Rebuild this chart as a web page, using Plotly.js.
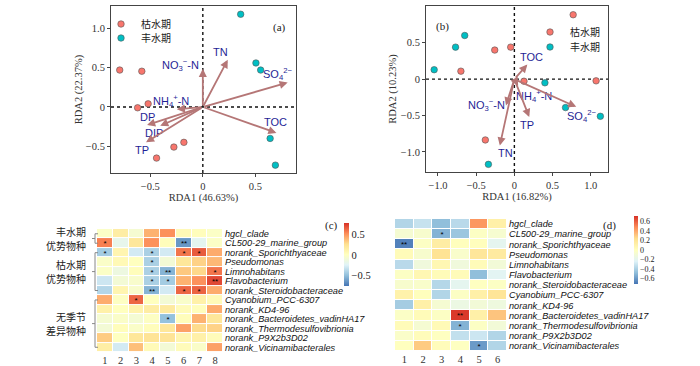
<!DOCTYPE html>
<html>
<head>
<meta charset="utf-8">
<script src="https://cdn.plot.ly/plotly-3.0.1.min.js"></script>
<style>html,body{margin:0;padding:0;background:#fff;}#chart{width:700px;height:366px;}</style>
</head>
<body>
<div id="chart"></div>
<script>
// ---------- DATA ----------
const seasons = ['枯水期', '丰水期'];
// Panel (a) sample scores
const aDryX = [-0.79, -0.58, -0.62, -0.52, -0.44, -0.275, -0.18];
const aDryY = [0.47, 0.455, -0.01, 0.04, -0.65, -0.51, -0.45];
const aWetX = [0.36, 0.505, 0.55, 0.64, 0.69];
const aWetY = [1.18, 0.56, 0.47, -0.40, -0.74];
// Panel (a) environmental vectors
const aEnv = ['TN', 'NO<sub>3</sub><sup>−</sup>-N', 'SO<sub>4</sub><sup>2−</sup>', 'TOC', 'NH<sub>4</sub><sup>+</sup>-N', 'DP', 'DIP', 'TP'];
const aEnvX = [0.237, 0.0, 0.807, 0.70, -0.247, -0.53, -0.405, -0.54];
const aEnvY = [0.60, 0.485, 0.31, -0.33, -0.03, -0.23, -0.24, -0.45];
// Panel (b) sample scores
const bDryX = [0.77, -0.257, -0.048, -0.70, 0.126, 1.07, -0.38];
const bDryY = [0.885, 0.40, 0.44, 0.11, -0.028, -0.023, -0.835];
const bWetX = [-0.65, -0.77, -1.05, 0.40, 0.67, 1.126, -0.34];
const bWetY = [0.60, 0.44, 0.13, -0.05, -0.39, -0.51, -1.17];
// Panel (b) environmental vectors
const bEnv = ['TOC', 'NH<sub>4</sub><sup>+</sup>-N', 'NO<sub>3</sub><sup>−</sup>-N', 'TN', 'TP', 'SO<sub>4</sub><sup>2−</sup>'];
const bEnvX = [0.17, 0.05, -0.11, -0.19, 0.195, 0.81];
const bEnvY = [0.20, -0.09, -0.36, -0.91, -0.52, -0.38];

// Heatmaps
const taxa = ['hgcl_clade', 'CL500-29_marine_group', 'norank_Sporichthyaceae', 'Pseudomonas',
  'Limnohabitans', 'Flavobacterium', 'norank_Steroidobacteraceae', 'Cyanobium_PCC-6307',
  'norank_KD4-96', 'norank_Bacteroidetes_vadinHA17', 'norank_Thermodesulfovibrionia',
  'norank_P9X2b3D02', 'norank_Vicinamibacterales'];
const colsC = [1, 2, 3, 4, 5, 6, 7, 8];
const colsD = [1, 2, 3, 4, 5, 6];
const corrC = [
  [-0.03, 0.15, -0.08, 0.40, 0.50, 0.05, 0.02, -0.03],
  [0.55, -0.20, 0.20, 0.50, 0.02, -0.65, -0.22, -0.03],
  [-0.45, 0.08, -0.30, -0.43, -0.30, 0.58, 0.65, 0.42],
  [-0.04, 0.05, 0.00, -0.43, -0.10, 0.20, 0.30, 0.38],
  [-0.03, -0.15, 0.02, -0.43, -0.55, 0.33, 0.28, 0.58],
  [-0.32, -0.10, -0.06, -0.43, -0.45, 0.40, 0.50, 0.70],
  [-0.40, 0.08, -0.06, -0.55, -0.30, 0.62, 0.63, 0.42],
  [0.42, -0.02, 0.62, 0.00, -0.10, -0.05, 0.12, 0.04],
  [0.12, 0.00, 0.10, 0.15, 0.17, 0.03, 0.01, 0.42],
  [-0.08, -0.04, -0.09, -0.02, -0.50, 0.02, 0.40, 0.20],
  [-0.10, 0.02, -0.04, 0.02, 0.20, 0.45, 0.27, 0.30],
  [0.32, -0.01, 0.20, 0.22, 0.22, 0.08, 0.12, 0.03],
  [0.14, -0.30, 0.36, 0.04, -0.10, 0.03, -0.04, 0.45]
];
const sigC = [
  ['', '', '', '', '', '', '', ''],
  ['*', '', '', '', '', '**', '', ''],
  ['*', '', '', '*', '', '*', '*', ''],
  ['', '', '', '*', '', '', '', ''],
  ['', '', '', '*', '**', '', '', '*'],
  ['', '', '', '*', '*', '', '', '**'],
  ['', '', '', '**', '', '*', '*', ''],
  ['', '', '*', '', '', '', '', ''],
  ['', '', '', '', '', '', '', ''],
  ['', '', '', '', '*', '', '', ''],
  ['', '', '', '', '', '', '', ''],
  ['', '', '', '', '', '', '', ''],
  ['', '', '', '', '', '', '', '']
];
const corrD = [
  [-0.38, -0.32, -0.48, -0.36, 0.45, 0.12],
  [-0.08, -0.06, -0.52, -0.45, -0.02, -0.07],
  [-0.68, -0.02, 0.14, 0.01, 0.01, -0.20],
  [0.03, -0.06, 0.22, -0.05, 0.19, 0.16],
  [-0.36, -0.12, 0.06, -0.12, 0.03, -0.10],
  [-0.02, 0.06, 0.03, 0.03, -0.48, -0.22],
  [-0.06, -0.05, -0.37, -0.20, -0.01, -0.02],
  [0.10, 0.01, -0.38, -0.02, 0.12, 0.20],
  [-0.42, 0.12, -0.08, -0.15, -0.10, -0.13],
  [-0.03, 0.03, -0.02, 0.70, 0.12, 0.32],
  [0.03, -0.08, 0.04, -0.52, -0.02, -0.10],
  [-0.04, 0.02, -0.01, -0.33, -0.30, -0.38],
  [0.00, 0.30, 0.02, -0.01, -0.60, -0.38]
];
const sigD = [
  ['', '', '', '', '', ''],
  ['', '', '*', '', '', ''],
  ['**', '', '', '', '', ''],
  ['', '', '', '', '', ''],
  ['', '', '', '', '', ''],
  ['', '', '', '', '', ''],
  ['', '', '', '', '', ''],
  ['', '', '', '', '', ''],
  ['', '', '', '', '', ''],
  ['', '', '', '**', '', ''],
  ['', '', '', '*', '', ''],
  ['', '', '', '', '', ''],
  ['', '', '', '', '*', '']
];
const groupLine1 = ['丰水期', '枯水期', '无季节'];
const groupLine2 = ['优势物种', '优势物种', '差异物种'];
const groupStart = [0, 2, 7];
const groupEnd = [1, 6, 12];
const cbTicksC = [-0.5, 0, 0.5];
const cbTicksD = [-0.6, -0.4, -0.2, 0, 0.2, 0.4, 0.6];

// ---------- STYLE ----------
const SERIF = 'Liberation Serif, Times New Roman, serif';
const SANS = 'Liberation Sans, Arial, sans-serif';
const CJK = 'Noto Sans CJK SC, sans-serif';
const RED = '#F8766D', TEAL = '#00BFC4';
const ARROW = '#b57676', LABEL = '#1f1f96';
const scale = [[0, '#4575b4'], [1/6, '#91bfdb'], [2/6, '#e0f3f8'], [0.5, '#ffffbf'], [4/6, '#fee090'], [5/6, '#fc8d59'], [1, '#d73027']];
const fmtTick = v => v === 0 ? '0' : (v < 0 ? '−' : '') + Math.abs(v).toFixed(1);

// label offsets in px for vector labels
const aLabShift = [[-7, 8], [-22, 4], [-10, 9], [-1, 11], [-6, 8], [0, 8], [-6, -7], [-4, -8]];
const bLabShift = [[4, 8], [16, -10], [-19, 0], [6, -8], [-2, -8], [5, -9]];

const mk = (c) => ({color: c, size: 6.5, line: {color: '#555', width: 0.6}});

const traces = [
  {type: 'scatter', mode: 'markers', x: aDryX, y: aDryY, name: seasons[0], marker: mk(RED), xaxis: 'x', yaxis: 'y', legend: 'legend', hoverinfo: 'x+y'},
  {type: 'scatter', mode: 'markers', x: aWetX, y: aWetY, name: seasons[1], marker: mk(TEAL), xaxis: 'x', yaxis: 'y', legend: 'legend2', hoverinfo: 'x+y'},
  {type: 'scatter', mode: 'markers', x: bDryX, y: bDryY, name: seasons[0], marker: mk(RED), xaxis: 'x2', yaxis: 'y2', legend: 'legend3', hoverinfo: 'x+y'},
  {type: 'scatter', mode: 'markers', x: bWetX, y: bWetY, name: seasons[1], marker: mk(TEAL), xaxis: 'x2', yaxis: 'y2', legend: 'legend4', hoverinfo: 'x+y'},
  {type: 'heatmap', x: colsC, y: taxa, z: corrC, text: sigC, texttemplate: '%{text}',
   textfont: {size: 8, color: '#000', family: SANS},
   colorscale: scale, zmin: -0.77, zmax: 0.77, xgap: 1, ygap: 1, xaxis: 'x3', yaxis: 'y3', showlegend: false,
   colorbar: {x: 344/700, xanchor: 'left', y: 1 - 255/366, yanchor: 'middle', lenmode: 'pixels', len: 63,
     thickness: 5, outlinewidth: 0, xpad: 0, ypad: 0, ticks: '', tickvals: cbTicksC, ticktext: cbTicksC.map(fmtTick),
     tickfont: {family: SERIF, size: 10.5, color: '#222'}}},
  {type: 'heatmap', x: colsD, y: taxa, z: corrD, text: sigD, texttemplate: '%{text}',
   textfont: {size: 8, color: '#000', family: SANS},
   colorscale: scale, zmin: -0.72, zmax: 0.72, xgap: 1, ygap: 1, xaxis: 'x4', yaxis: 'y4', showlegend: false,
   colorbar: {x: 634/700, xanchor: 'left', y: 1 - 250/366, yanchor: 'middle', lenmode: 'pixels', len: 68,
     thickness: 4, outlinewidth: 0, xpad: 0, ypad: 0, ticks: '', tickvals: cbTicksD, ticktext: cbTicksD.map(fmtTick),
     tickfont: {family: SERIF, size: 8, color: '#222'}}}
];

const axFont = {family: SERIF, size: 10.5, color: '#333'};
const frame = {showline: true, mirror: true, linecolor: '#444', linewidth: 1, ticks: 'outside', ticklen: 3,
  tickcolor: '#444', showgrid: false, zeroline: false, tickfont: axFont};

const annotations = [];
aEnv.forEach((n, i) => {
  annotations.push({xref: 'x', yref: 'y', axref: 'x', ayref: 'y', x: aEnvX[i], y: aEnvY[i], ax: 0, ay: 0,
    text: '', showarrow: true, arrowhead: 2, arrowsize: 0.9, arrowwidth: 1.8, arrowcolor: ARROW});
  annotations.push({xref: 'x', yref: 'y', x: aEnvX[i], y: aEnvY[i], xshift: aLabShift[i][0], yshift: aLabShift[i][1],
    text: n, showarrow: false, font: {family: SANS, size: 11, color: LABEL}});
});
bEnv.forEach((n, i) => {
  annotations.push({xref: 'x2', yref: 'y2', axref: 'x2', ayref: 'y2', x: bEnvX[i], y: bEnvY[i], ax: 0, ay: 0,
    text: '', showarrow: true, arrowhead: 2, arrowsize: 0.9, arrowwidth: 1.8, arrowcolor: ARROW});
  annotations.push({xref: 'x2', yref: 'y2', x: bEnvX[i], y: bEnvY[i], xshift: bLabShift[i][0], yshift: bLabShift[i][1],
    text: n, showarrow: false, font: {family: SANS, size: 11, color: LABEL}});
});
const panelLab = [['(a)', 279, 19], ['(b)', 442, 18], ['(c)', 331, 225], ['(d)', 618, 225]];
panelLab.forEach(p => annotations.push({xref: 'paper', yref: 'paper', x: p[1]/700, y: 1 - p[2]/366,
  text: p[0], showarrow: false, font: {family: SERIF, size: 11, color: '#222'}}));
const grpFont = {family: CJK, size: 10, color: '#222'};
groupLine1.forEach((g, i) => {
  const mid = (groupStart[i] + groupEnd[i]) / 2;
  annotations.push({xref: 'paper', yref: 'y3', x: 88/700, xanchor: 'right', y: mid, yshift: 7,
    text: g, showarrow: false, font: grpFont});
  annotations.push({xref: 'paper', yref: 'y3', x: 88/700, xanchor: 'right', y: mid, yshift: -7,
    text: groupLine2[i], showarrow: false, font: grpFont});
});

const shapes = [];
[['x', 'y'], ['x2', 'y2']].forEach(([xa, ya]) => {
  shapes.push({type: 'line', xref: xa, yref: ya + ' domain', x0: 0, x1: 0, y0: 0, y1: 1, line: {color: '#111', width: 1.4, dash: 'dot'}, layer: 'below'});
  shapes.push({type: 'line', xref: xa + ' domain', yref: ya, x0: 0, x1: 1, y0: 0, y1: 0, line: {color: '#111', width: 1.4, dash: 'dot'}, layer: 'below'});
});
const bx = 95/700, bR = 98/700, bL = 92/700;
const brk = {color: '#888', width: 1};
groupLine1.forEach((g, i) => {
  const s = groupStart[i], e = groupEnd[i];
  shapes.push({type: 'line', xref: 'paper', yref: 'y3', x0: bx, x1: bx, y0: s, y1: e, line: brk});
  shapes.push({type: 'line', xref: 'paper', yref: 'y3', x0: bx, x1: bR, y0: s, y1: s, line: brk});
  shapes.push({type: 'line', xref: 'paper', yref: 'y3', x0: bx, x1: bR, y0: e, y1: e, line: brk});
  shapes.push({type: 'line', xref: 'paper', yref: 'y3', x0: bL, x1: bx, y0: (s + e) / 2, y1: (s + e) / 2, line: brk});
});

const legBase = {xanchor: 'left', yanchor: 'middle', bgcolor: 'rgba(0,0,0,0)', borderwidth: 0,
  font: {family: CJK, size: 10, color: '#222'}};
const rowTickFont = {family: SANS, size: 9.2, style: 'italic', color: '#111'};

const layout = {
  width: 700, height: 366, margin: {l: 0, r: 0, t: 0, b: 0},
  paper_bgcolor: '#fff', plot_bgcolor: '#fff', showlegend: true,
  legend: Object.assign({x: 101/700, y: 1 - 24/366}, legBase),
  legend2: Object.assign({x: 101/700, y: 1 - 38/366}, legBase),
  legend3: Object.assign({x: 530/700, y: 1 - 32/366}, legBase),
  legend4: Object.assign({x: 530/700, y: 1 - 47/366}, legBase),
  xaxis: Object.assign({}, frame, {domain: [111/700, 296/700], anchor: 'y', range: [-0.873, 0.886],
    tickvals: [-0.5, 0, 0.5], ticktext: ['−0.5', '0', '0.5'],
    title: {text: 'RDA1 (46.63%)', font: axFont, standoff: 2}}),
  yaxis: Object.assign({}, frame, {domain: [1 - 173/366, 1 - 6/366], anchor: 'x', range: [-0.84, 1.285],
    tickvals: [-0.5, 0, 0.5, 1.0], ticktext: ['−0.5', '0', '0.5', '1.0'],
    title: {text: 'RDA2 (22.37%)', font: axFont, standoff: 1}}),
  xaxis2: Object.assign({}, frame, {domain: [426/700, 608/700], anchor: 'y2', range: [-1.157, 1.226],
    tickvals: [-1, -0.5, 0, 0.5, 1], ticktext: ['−1.0', '−0.5', '0', '0.5', '1.0'],
    title: {text: 'RDA1 (16.82%)', font: axFont, standoff: 2}}),
  yaxis2: Object.assign({}, frame, {domain: [1 - 172/366, 1 - 6/366], anchor: 'x2', range: [-1.275, 1.005],
    tickvals: [-1, -0.5, 0, 0.5], ticktext: ['−1.0', '−0.5', '0', '0.5'],
    title: {text: 'RDA2 (10.23%)', font: axFont, standoff: 2}}),
  xaxis3: {domain: [97/700, 223/700], anchor: 'y3', tickvals: colsC, ticks: '', showgrid: false, zeroline: false,
    showline: false, tickfont: axFont},
  yaxis3: {domain: [1 - 352/366, 1 - 222/366], anchor: 'x3', side: 'right', autorange: 'reversed', type: 'category',
    tickmode: 'array', tickvals: taxa, ticktext: taxa, ticklabelstandoff: 1,
    ticks: '', showgrid: false, zeroline: false, showline: false, tickfont: rowTickFont},
  xaxis4: {domain: [395/700, 507/700], anchor: 'y4', tickvals: colsD, ticks: '', showgrid: false, zeroline: false,
    showline: false, tickfont: axFont},
  yaxis4: {domain: [1 - 351/366, 1 - 219/366], anchor: 'x4', side: 'right', autorange: 'reversed', type: 'category',
    tickmode: 'array', tickvals: taxa, ticktext: taxa, ticklabelstandoff: 1,
    ticks: '', showgrid: false, zeroline: false, showline: false, tickfont: rowTickFont},
  annotations: annotations,
  shapes: shapes
};

Plotly.newPlot('chart', traces, layout, {displayModeBar: false, staticPlot: true});
</script>
</body>
</html>
